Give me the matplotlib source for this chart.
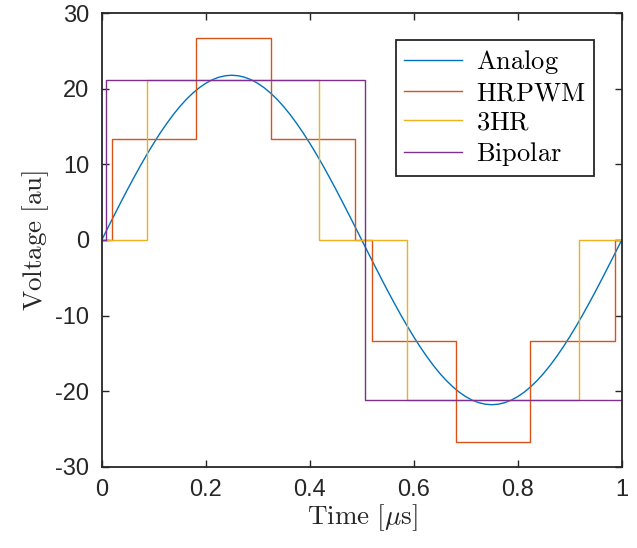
import matplotlib
matplotlib.use("Agg")
import matplotlib.pyplot as plt

# analog waveform, every 0.0125 us
t_analog = [i * 0.0125 for i in range(81)]
v_quarter = [0, 1.71, 3.41, 5.09, 6.74, 8.34, 9.90, 11.39, 12.81, 14.16, 15.41,
             16.58, 17.64, 18.59, 19.42, 20.14, 20.73, 21.20, 21.53, 21.73, 21.8]
v_half = v_quarter + v_quarter[-2::-1]
v_analog = v_half + [-v for v in v_half[1:]]

# step waveforms: switching instants and levels
t_hrpwm = [0, 0.019, 0.182, 0.325, 0.488, 0.519, 0.681, 0.824, 0.987, 1.0]
v_hrpwm = [0, 13.35, 26.7, 13.35, 0, -13.35, -26.7, -13.35, 0, 0]

t_3hr = [0, 0.088, 0.418, 0.587, 0.918, 1.0]
v_3hr = [0, 21.2, 0, -21.2, 0, 0]

t_bipolar = [0, 0.008, 0.506, 1.0]
v_bipolar = [0, 21.2, -21.2, -21.2]

labels = ['Analog', 'HRPWM', '3HR', 'Bipolar']
colors = ['#0072BD', '#D95319', '#EDB120', '#7E2F8E']

plt.rcParams['font.family'] = 'Liberation Sans'
plt.rcParams['mathtext.fontset'] = 'cm'
plt.rcParams['axes.unicode_minus'] = False

fig = plt.figure(figsize=(6.37, 5.48), dpi=100)
ax = fig.add_axes([0.1597, 0.1484, 0.8163, 0.8274])

ax.plot(t_analog, v_analog, color=colors[0], lw=1.0, label=r'$\mathrm{' + labels[0] + '}$')
ax.plot(t_hrpwm, v_hrpwm, color=colors[1], lw=1.0, drawstyle='steps-post',
        label=r'$\mathrm{' + labels[1] + '}$')
ax.plot(t_3hr, v_3hr, color=colors[2], lw=1.0, drawstyle='steps-post',
        label=r'$\mathrm{' + labels[2] + '}$')
ax.plot(t_bipolar, v_bipolar, color=colors[3], lw=1.0, drawstyle='steps-post',
        label=r'$\mathrm{' + labels[3] + '}$')

ax.set_xlim(0, 1)
ax.set_ylim(-30, 30)
ax.set_xticks([0, 0.2, 0.4, 0.6, 0.8, 1])
ax.set_xticklabels(['0', '0.2', '0.4', '0.6', '0.8', '1'])
ax.set_yticks(range(-30, 31, 10))

ax.tick_params(direction='in', length=5, width=1.0, top=True, right=True,
               labelsize=17, colors='#262626', pad=9)
for s in ax.spines.values():
    s.set_color('#262626')
    s.set_linewidth(1.3)

ax.set_xlabel(r'$\mathrm{Time\ [\mu s]}$', fontsize=19.5, color='#262626', labelpad=1)
ax.set_ylabel(r'$\mathrm{Voltage\ [au]}$', fontsize=19.5, color='#262626', labelpad=3)

leg = ax.legend(loc='upper right', bbox_to_anchor=(0.946, 0.941), fontsize=19,
                fancybox=False, edgecolor='#262626', framealpha=1,
                handlelength=2.2, handletextpad=0.55, borderpad=0.3,
                labelspacing=0.2, borderaxespad=0)
leg.get_frame().set_linewidth(1.3)

fig.savefig('out.png', dpi=100)
